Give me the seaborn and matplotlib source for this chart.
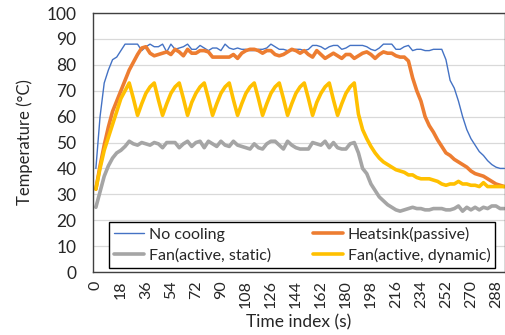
import matplotlib
matplotlib.use("Agg")
import matplotlib.pyplot as plt
import seaborn as sns
import pandas as pd

# time index, one sample every 3 s
time_s = list(range(0, 295, 3))

no_cooling = [40, 60, 73, 78, 82, 83, 85.5, 88, 88, 88, 88, 85.5, 87, 88, 87, 87, 88, 85, 88, 86,
              86.5, 87, 88, 86, 86, 87.5, 86.5, 85.5, 86.5, 86.5, 85.5, 88, 86.5, 86, 86.5, 86, 86, 85.5, 85.5, 86,
              86, 86.5, 88, 87, 86, 86, 85.5, 85.5, 86, 86, 85.5, 86, 87.5, 87.5, 87, 86, 87, 87.5, 87.5, 86,
              86.5, 87.5, 87.5, 87.5, 87.5, 87, 86, 85.5, 86.5, 88, 88, 88, 86, 86, 87, 87.5, 85.5, 86, 86, 85.5,
              85.5, 86, 86, 86, 82, 74, 71, 66, 60, 55, 51.5, 49, 46.5, 45, 43, 41.5, 40.5, 40, 40]

heatsink = [32, 41, 49, 56, 62, 66, 70, 74, 78, 81, 84, 86.5, 87, 84.5, 83.5, 84, 84.5, 85, 84, 86,
            85, 83.5, 86, 84.5, 84.5, 85.5, 85.5, 85, 83, 83, 83, 83, 83, 84, 82.5, 84.5, 85.5, 86, 86, 85.5,
            84.5, 85.5, 85.5, 84, 83.5, 84, 85, 86, 85.5, 84.5, 85.5, 84, 83, 85.5, 84, 82.5, 83.5, 84.5, 83.5, 82.5,
            84, 84, 82.5, 83.5, 84.5, 85, 84, 82.5, 84, 85, 84.5, 84.5, 83.5, 83, 83, 81.5, 75, 70, 66, 60,
            56.5, 54, 51, 48.5, 46, 45, 43.5, 42.5, 41.5, 40.5, 39, 38, 37.5, 37, 36, 35, 34, 33.5, 33]

fan_static = [25, 31, 37, 41, 44, 46, 47, 48.5, 50.5, 49.5, 49, 50, 49.5, 49, 50, 49.5, 48, 50, 50, 50,
              48, 49.5, 50.5, 48.5, 50, 50.5, 48, 50.5, 49.5, 48.5, 50.5, 49, 48.5, 50.5, 49, 48.5, 48, 47.5, 49.5, 48,
              47.5, 49.5, 50.5, 50.5, 49, 47.5, 50.5, 49, 48, 47.5, 47.5, 47.5, 50, 49.5, 49, 50.5, 48, 50, 48, 47.5,
              47.5, 49.5, 50, 46, 40, 38, 34, 31.5, 29, 27.5, 26, 25, 24, 23.5, 24, 24.5, 25, 24.5, 24.5, 24,
              24, 24.5, 24.5, 24.5, 24, 24, 24.5, 25.5, 23.5, 25, 24, 25, 24, 25, 24.5, 25.5, 25.5, 24.5, 24.5]

fan_dynamic = [32, 40, 47, 52, 57, 62, 67, 70, 73, 67, 60.5, 65, 69, 71.5, 73, 66.5, 60.5, 65, 69, 71.5,
               73, 67, 60.5, 65.5, 69, 71.5, 73, 67, 60.5, 65, 69, 71.5, 73, 66.5, 60.5, 65, 69, 71.5, 73, 67,
               60.5, 65, 69, 71.5, 73, 67, 60.5, 65, 69, 71.5, 73, 67, 60.5, 65.5, 69, 71.5, 73, 66.5, 60.5, 65,
               69, 71.5, 73, 61, 55, 51.5, 48.5, 46, 44, 42.5, 41.5, 40.5, 39.5, 39, 38.5, 37.5, 37.5, 36.5, 36, 36,
               36, 35.5, 35, 34, 33.5, 34, 34, 35, 34, 34, 33.5, 33.5, 33, 34.5, 33, 33, 33, 33, 33]

series_names = ["No cooling", "Heatsink(passive)", "Fan(active, static)", "Fan(active, dynamic)"]
series_values = [no_cooling, heatsink, fan_static, fan_dynamic]
colors = ["#4472C4", "#ED7D31", "#A5A5A5", "#FFC000"]
widths = [1.0, 2.6, 2.6, 2.6]

x_ticks = list(range(0, 289, 18))
y_ticks = list(range(0, 101, 10))

sns.set_style("white")
plt.rcParams['font.family'] = ['Lato', 'DejaVu Sans']

fig = plt.figure(figsize=(5.06, 3.35), dpi=100)
ax = fig.add_axes([0.184, 0.188, 0.814, 0.773])

handles = {}
for name, vals, c, lw in zip(series_names, series_values, colors, widths):
    df = pd.DataFrame({"t": time_s, "temp": vals})
    sns.lineplot(data=df, x="t", y="temp", color=c, linewidth=lw, ax=ax, label=name)
    handles[name] = ax.lines[-1]

ax.set_xlim(-2, 294.5)
ax.set_ylim(0, 100)
ax.set_xticks(x_ticks)
ax.set_xticklabels([str(v) for v in x_ticks], rotation=90, fontsize=11.5)
ax.set_yticks(y_ticks)
ax.set_yticklabels([str(v) for v in y_ticks], fontsize=12.5)
ax.tick_params(axis='x', length=0, pad=6)
ax.tick_params(axis='y', length=0, pad=12)
ax.yaxis.grid(True, color="#D9D9D9", linewidth=0.9)
ax.set_axisbelow(True)
for s in ax.spines.values():
    s.set_color("#404040")
    s.set_linewidth(1.0)

ax.set_xlabel("Time index (s)", fontsize=12.5, labelpad=4)
ax.set_ylabel("Temperature (°C)", fontsize=12, labelpad=10)

order = ["No cooling", "Fan(active, static)", "Heatsink(passive)", "Fan(active, dynamic)"]
leg = ax.legend([handles[n] for n in order], order, ncol=2, loc="lower left",
                bbox_to_anchor=(0.039, 0.016), fontsize=11.5, frameon=True,
                fancybox=False, framealpha=1, edgecolor="black", handlelength=1.9,
                borderaxespad=0, handletextpad=0.3, labelspacing=0.4,
                borderpad=0.3, columnspacing=2.6)
leg.get_frame().set_linewidth(1.0)

fig.savefig("out.png", dpi=100)
